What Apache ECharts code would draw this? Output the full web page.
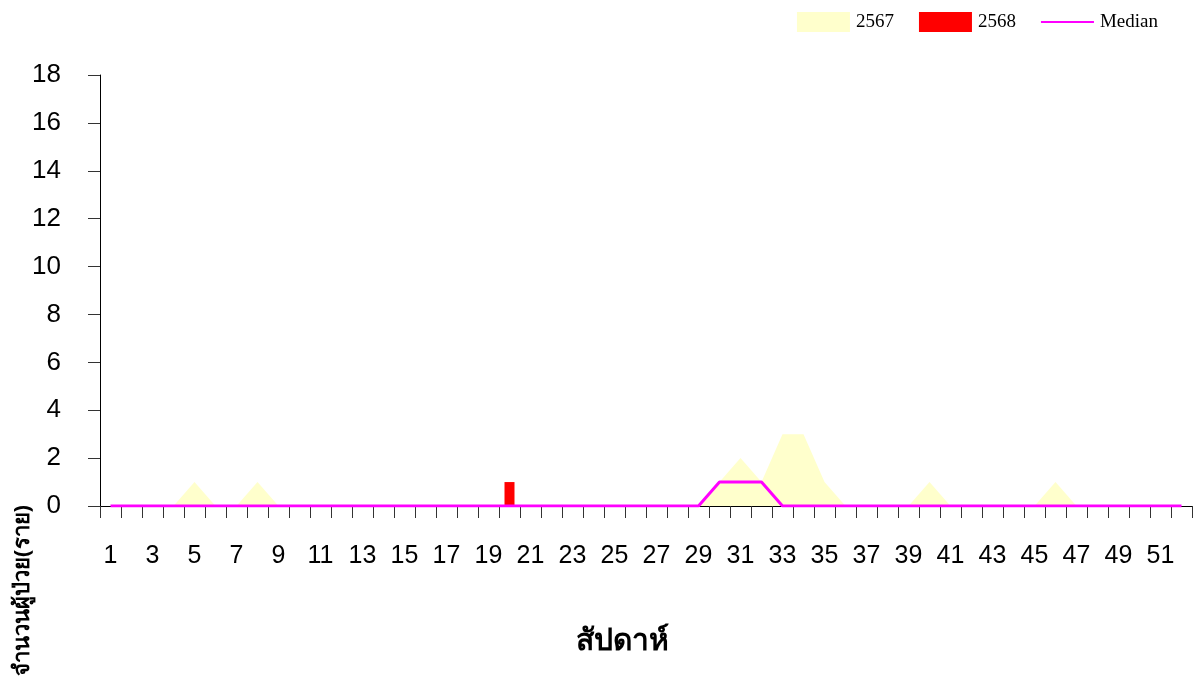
<!DOCTYPE html>
<html>
<head>
<meta charset="utf-8">
<script src="https://cdn.jsdelivr.net/npm/echarts@6/dist/echarts.min.js"></script>
<style>
html,body{margin:0;padding:0;background:#fff;}
#chart{width:1194px;height:684px;}
</style>
</head>
<body>
<div id="chart"></div>
<script>
const weeks = Array.from({length: 52}, (_, i) => String(i + 1));
const cases2567 = [0,0,0,0,1,0,0,1,0,0,0,0,0,0,0,0,0,0,0,0,0,0,0,0,0,0,0,0,0,1,2,1,3,3,1,0,0,0,0,1,0,0,0,0,0,1,0,0,0,0,0,0];
const cases2568 = [0,0,0,0,0,0,0,0,0,0,0,0,0,0,0,0,0,0,0,1,0,0,0,0,0,0,0,0,0,0,0,0,0,0,0,0,0,0,0,0,0,0,0,0,0,0,0,0,0,0,0,0];
const median = [0,0,0,0,0,0,0,0,0,0,0,0,0,0,0,0,0,0,0,0,0,0,0,0,0,0,0,0,0,1,1,1,0,0,0,0,0,0,0,0,0,0,0,0,0,0,0,0,0,0,0,0];
const yTicks = {min: 0, max: 18, interval: 2};
const xTitle = 'สัปดาห์';
const yTitle = 'จำนวนผู้ป่วย(ราย)';

const chart = echarts.init(document.getElementById('chart'), null, {renderer: 'canvas'});
chart.setOption({
  animation: false,
  backgroundColor: '#fff',
  legend: {
    top: 7, right: 31,
    itemWidth: 53, itemHeight: 20, itemGap: 25,
    textStyle: {fontFamily: 'Liberation Serif', fontSize: 19, color: '#000', padding: [0,0,0,1]},
    data: [
      {name: '2567', icon: 'rect', itemStyle: {color: '#FFFFCC'}},
      {name: '2568', icon: 'rect', itemStyle: {color: '#FF0000'}},
      {name: 'Median', icon: 'path://M0,0 M53,20 M0,9 L53,9 L53,11 L0,11 Z', itemStyle: {color: '#FF00FF'}}
    ]
  },
  grid: {left: 100, right: 2, top: 75, bottom: 178, containLabel: false},
  xAxis: {
    type: 'category', data: weeks, boundaryGap: true,
    axisLine: {lineStyle: {color: '#000', width: 1}},
    axisTick: {show: true, length: 12, alignWithLabel: false, interval: 0, lineStyle: {color: '#333'}},
    axisLabel: {interval: 1, margin: 38, fontFamily: 'Liberation Sans', fontSize: 25, color: '#000'}
  },
  yAxis: {
    type: 'value', min: yTicks.min, max: yTicks.max, interval: yTicks.interval,
    splitLine: {show: false},
    axisLine: {show: true, lineStyle: {color: '#000', width: 1}},
    axisTick: {show: true, length: 12, lineStyle: {color: '#333'}},
    axisLabel: {margin: 39, fontFamily: 'Liberation Sans', fontSize: 26, color: '#000'}
  },
  graphic: [
    {type: 'text', left: 576, top: 626, style: {text: xTitle, font: 'bold 30px "Noto Sans"', fill: '#000'}},
    {type: 'text', x: 12, y: 505, rotation: Math.PI / 2, style: {text: yTitle, font: 'bold 22px "Noto Sans"', fill: '#000', textAlign: 'right', textVerticalAlign: 'top'}}
  ],
  series: [
    {
      name: '2567', type: 'line', data: cases2567, symbol: 'none',
      itemStyle: {color: '#FFFFCC'},
      lineStyle: {width: 0, color: '#FFFFCC'},
      areaStyle: {color: '#FFFFCC', opacity: 1},
      z: 1
    },
    {
      name: '2568', type: 'bar', data: cases2568, barWidth: 10,
      itemStyle: {color: '#FF0000'}, z: 2
    },
    {
      name: 'Median', type: 'line', data: median, symbol: 'none',
      itemStyle: {color: '#FF00FF'},
      lineStyle: {width: 3, color: '#FF00FF'}, z: 3
    }
  ]
});
</script>
</body>
</html>
